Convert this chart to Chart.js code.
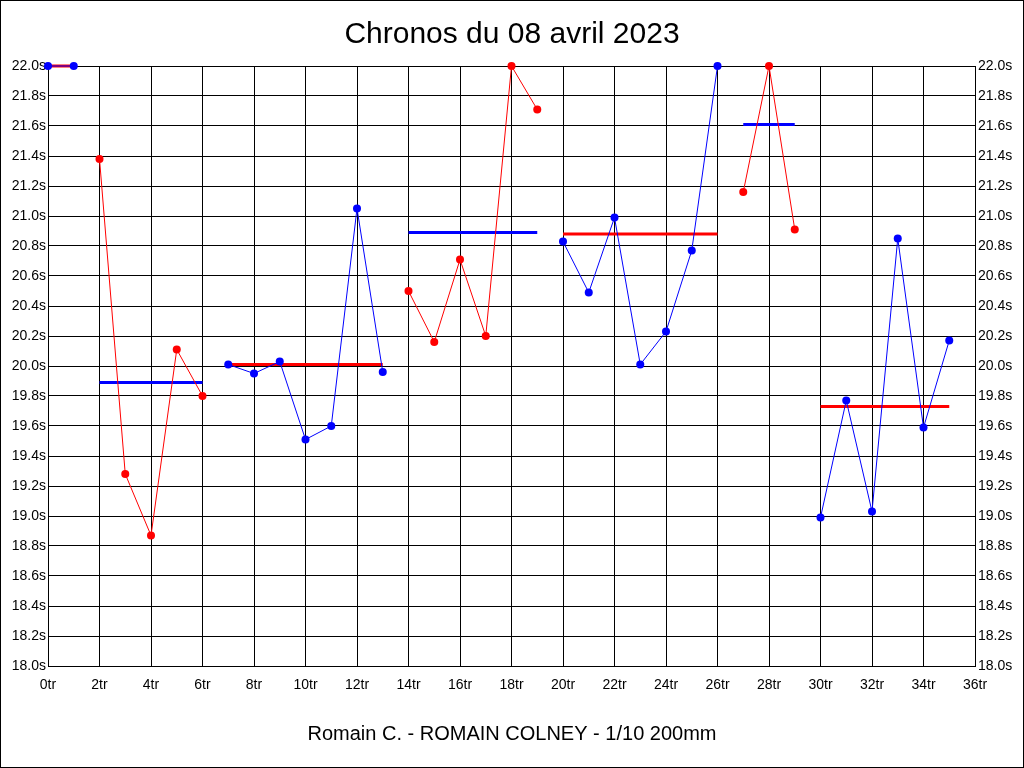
<!DOCTYPE html>
<html>
<head>
<meta charset="utf-8">
<script src="https://cdn.jsdelivr.net/npm/chart.js@4"></script>
<style>
  body { margin: 0; background: #fff; }
  #chart-div { width: 1024px; height: 768px; box-sizing: border-box; border: 1px solid #000; }
  #chart-canvas { display: block; }
</style>
</head>
<body>
<div id="chart-div"><canvas id="chart-canvas" width="1022" height="766"></canvas></div>
<script>
// premier tour de chaque série
const debuts = [0, 2, 7, 14, 20, 27, 30];

// chronos de chaque série (s)
const serie1 = [22.0, 22.0];
const serie2 = [21.38, 19.28, 18.87, 20.11, 19.80];
const serie3 = [20.01, 19.95, 20.03, 19.51, 19.60, 21.05, 19.96];
const serie4 = [20.50, 20.16, 20.71, 20.20, 22.0, 21.71];
const serie5 = [20.83, 20.49, 20.99, 20.01, 20.23, 20.77, 22.0];
const serie6 = [21.16, 22.0, 20.91];
const serie7 = [18.99, 19.77, 19.03, 20.85, 19.59, 20.17];
const series = [serie1, serie2, serie3, serie4, serie5, serie6, serie7];

// moyenne de chaque série
const moyennes = [22.0, 19.89, 20.01, 20.89, 20.88, 21.61, 19.73];

const couleurs = ["#0000ff", "#ff0000"];
const font = "Arial, 'Liberation Sans', sans-serif";

const datasets = [];
series.forEach((serie, i) => {
  const c = couleurs[i % 2];
  datasets.push({
    data: serie.map((v, k) => ({ x: debuts[i] + k, y: v })),
    borderColor: c,
    backgroundColor: c,
    borderWidth: 1,
    pointRadius: 4,
    pointBorderWidth: 0,
    tension: 0,
    clip: false
  });
});
series.forEach((serie, i) => {
  const c = couleurs[(i + 1) % 2];
  datasets.push({
    data: [
      { x: debuts[i], y: moyennes[i] },
      { x: debuts[i] + serie.length - 1, y: moyennes[i] }
    ],
    borderColor: c,
    backgroundColor: c,
    borderWidth: 3,
    pointRadius: 0,
    clip: false
  });
});

const yTicks = {
  stepSize: 0.2,
  color: "#000",
  font: { family: font, size: 14 },
  padding: 2,
  callback: (v) => v.toFixed(1) + "s"
};

new Chart(document.getElementById("chart-canvas"), {
  type: "line",
  data: { datasets: datasets },
  options: {
    responsive: false,
    animation: false,
    layout: { padding: 0 },
    plugins: {
      legend: { display: false },
      tooltip: { enabled: false },
      title: {
        display: true,
        text: "Chronos du 08 avril 2023",
        color: "#000",
        font: { family: font, size: 30, weight: "normal", lineHeight: 1.2 },
        padding: { top: 16, bottom: 13 }
      },
      subtitle: {
        display: true,
        position: "bottom",
        text: "Romain C. - ROMAIN COLNEY - 1/10 200mm",
        color: "#000",
        font: { family: font, size: 20, weight: "normal", lineHeight: 1.2 },
        padding: { top: 11, bottom: 21 }
      }
    },
    scales: {
      x: {
        type: "linear",
        min: 0,
        max: 36,
        grid: { color: "#000", drawTicks: false },
        border: { color: "#000" },
        ticks: {
          stepSize: 2,
          color: "#000",
          font: { family: font, size: 14 },
          padding: 11,
          maxRotation: 0,
          callback: (v) => v + "tr"
        },
        afterFit: (s) => { s.height = 45; }
      },
      y: {
        position: "left",
        min: 18,
        max: 22,
        grid: { color: "#000", drawTicks: false },
        border: { color: "#000" },
        ticks: yTicks,
        afterFit: (s) => { s.width = 47; }
      },
      y2: {
        display: true,
        position: "right",
        min: 18,
        max: 22,
        grid: { display: false, drawTicks: false },
        border: { color: "#000" },
        ticks: Object.assign({}, yTicks, { padding: 3 }),
        afterFit: (s) => { s.width = 48; }
      }
    }
  }
});
</script>
</body>
</html>
